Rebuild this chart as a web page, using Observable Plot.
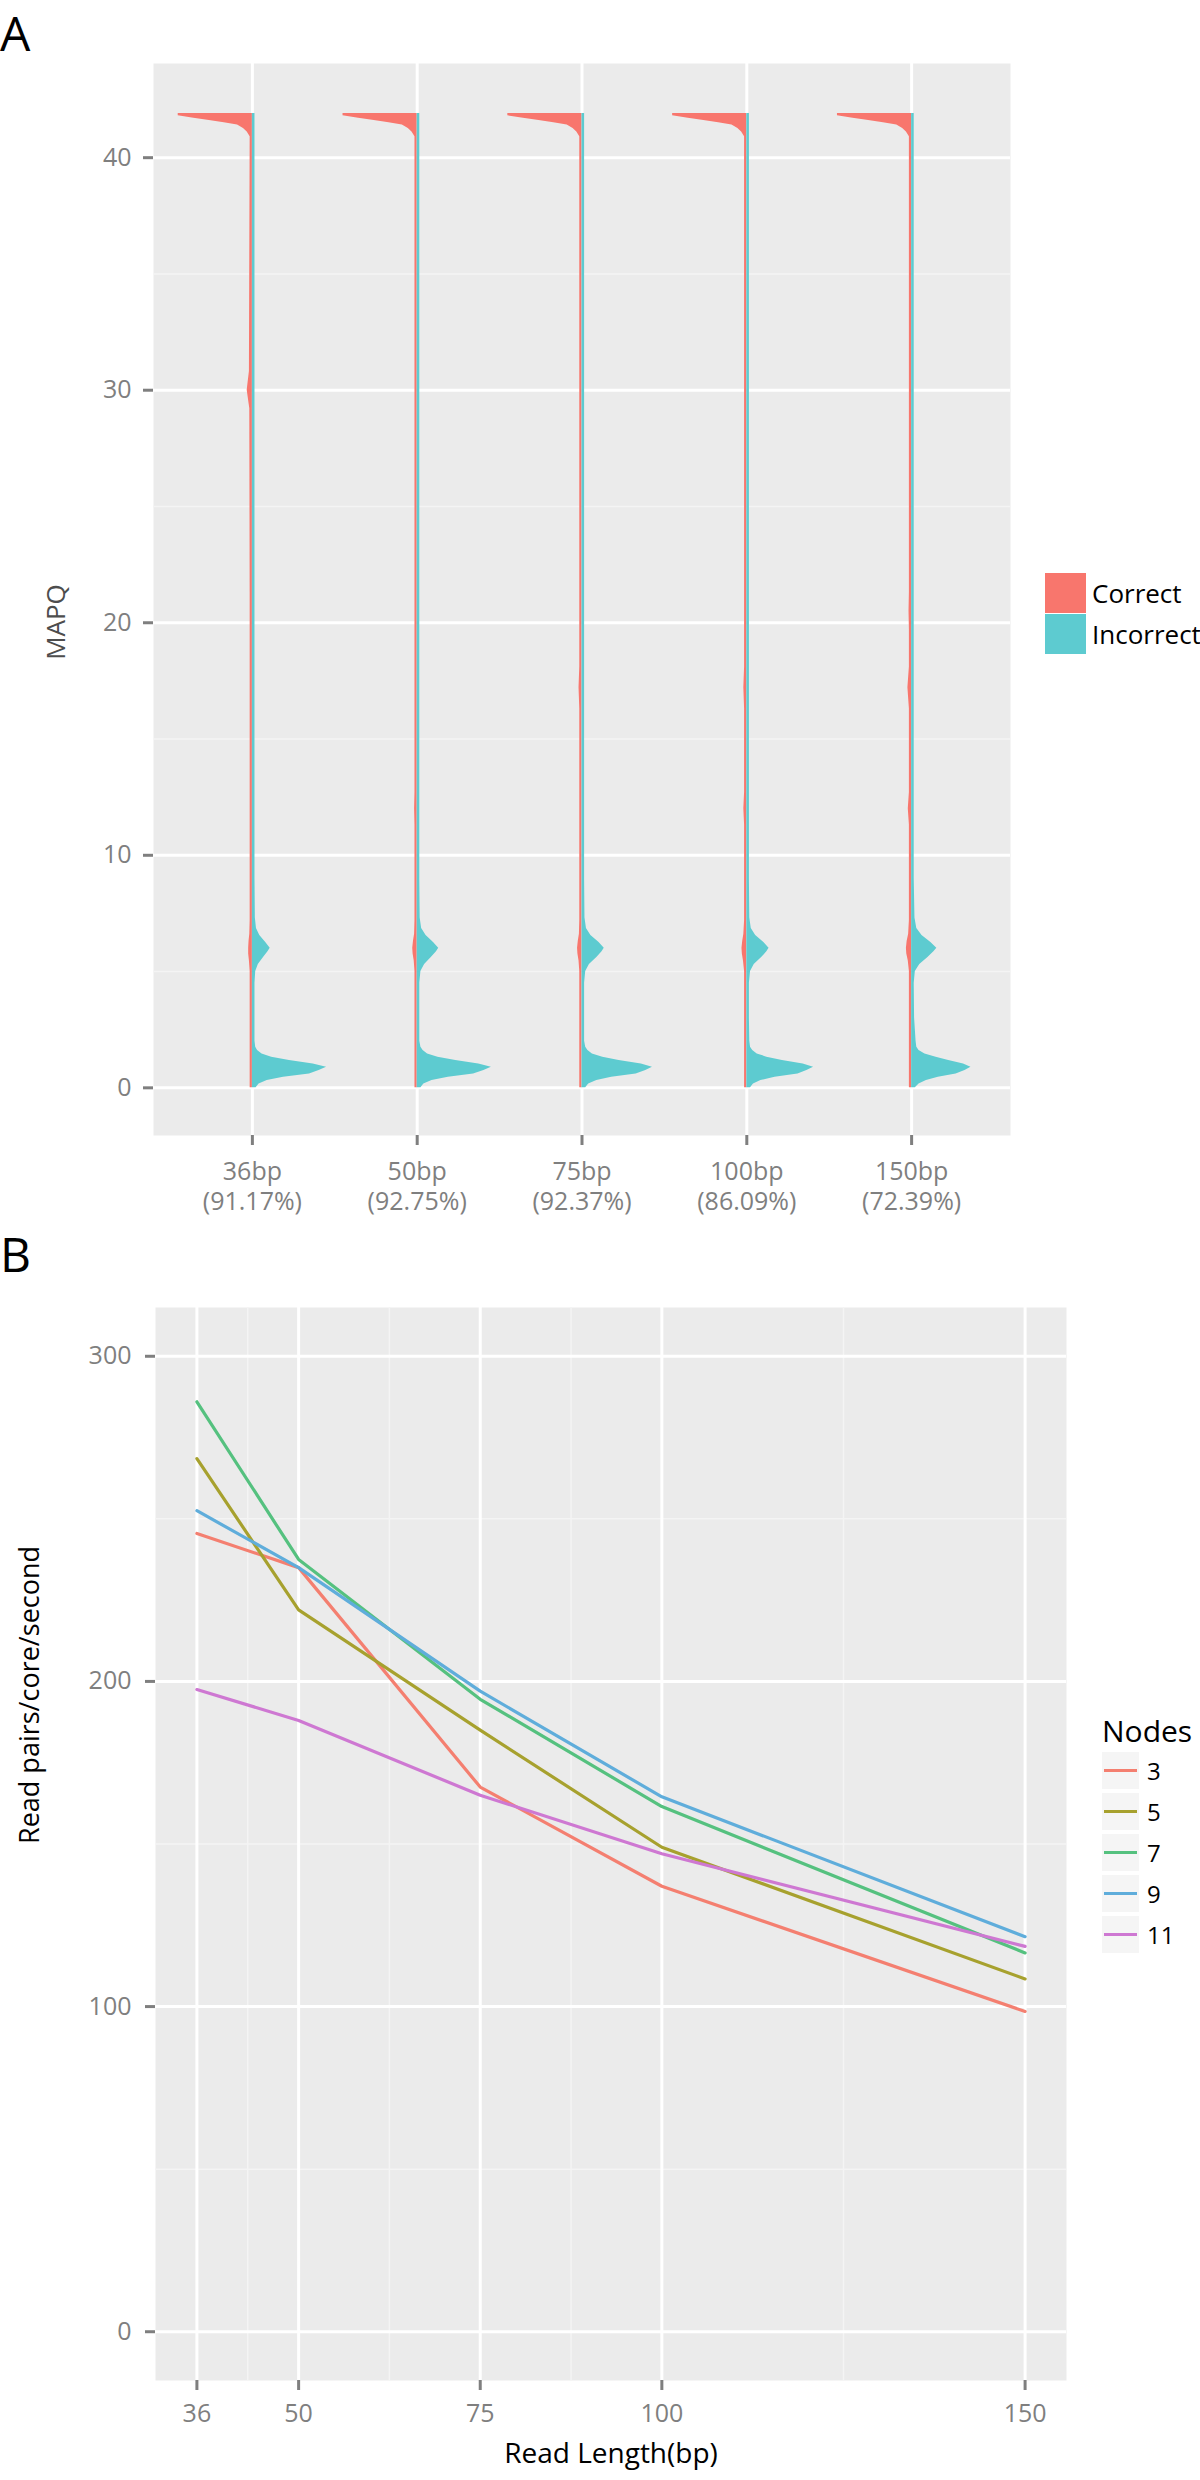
<!DOCTYPE html>
<html><head><meta charset="utf-8">
<script src="https://cdn.jsdelivr.net/npm/d3@7"></script>
<script src="https://cdn.jsdelivr.net/npm/@observablehq/plot@0.6"></script>
<style>
body{margin:0;background:#fff;font-family:"Open Sans",sans-serif;}
#wrap{position:relative;width:1200px;height:2480px;overflow:hidden;background:#fff;}
.abs{position:absolute;}
.panelLabel{font-size:48px;line-height:48px;color:#000;}
.legA{display:flex;align-items:center;height:41px;}
.legA .sw{width:41px;height:40px;margin-right:6px;}
.legA span{font-size:26px;color:#000;}
.legB{display:flex;align-items:center;height:41px;}
.legB .key{width:37px;height:37px;background:#F5F5F5;display:flex;align-items:center;justify-content:center;margin-right:8px;}
.legB .key i{display:block;width:33px;height:3px;}
.legB span{font-size:24px;color:#000;}
.ytitle{white-space:nowrap;font-size:26px;line-height:30px;color:#4D4D4D;transform:translate(-50%,-50%) rotate(-90deg);}
</style></head><body><div id="wrap"></div>
<script>
// ---------- Panel A data ----------
const readLengths = ["36bp","50bp","75bp","100bp","150bp"];
const percentCorrect = ["91.17%","92.75%","92.37%","86.09%","72.39%"];
const classes = ["Correct","Incorrect"];
const classColors = ["#F8766D","#5DCBD0"];
const mapqTicks = [0,10,20,30,40];
const mapqMinor = [5,15,25,35];

// density half-widths (1 = full half-violin width)
const incorrectMapq = [0,0.17,0.31,0.46,0.6,0.74,0.89,1.03,1.17,1.32,1.46,1.6,1.75,2.0,3.0,4.5,5.0,5.3,5.6,5.85,6.0,6.25,6.55,6.85,7.3,9,20,30,41.9];
const incorrect36  = [0.05,0.09,0.2,0.42,0.77,0.9,1.0,0.82,0.5,0.26,0.13,0.07,0.045,0.035,0.035,0.035,0.045,0.08,0.15,0.21,0.24,0.18,0.1,0.055,0.04,0.035,0.035,0.035,0.035];
const incorrect50  = [0.05,0.09,0.2,0.42,0.76,0.9,1.0,0.83,0.52,0.28,0.14,0.08,0.05,0.035,0.035,0.035,0.05,0.1,0.19,0.26,0.29,0.22,0.12,0.06,0.04,0.035,0.035,0.035,0.035];
const incorrect75  = [0.05,0.09,0.2,0.4,0.73,0.86,0.95,0.8,0.5,0.28,0.14,0.08,0.05,0.035,0.035,0.035,0.05,0.1,0.2,0.27,0.3,0.23,0.12,0.06,0.04,0.035,0.035,0.035,0.035];
const incorrect100 = [0.05,0.09,0.19,0.38,0.69,0.81,0.9,0.76,0.48,0.27,0.14,0.08,0.05,0.04,0.035,0.035,0.05,0.1,0.2,0.27,0.3,0.23,0.12,0.06,0.04,0.035,0.035,0.035,0.035];
const incorrect150 = [0.05,0.1,0.2,0.36,0.6,0.72,0.8,0.7,0.5,0.33,0.18,0.1,0.07,0.06,0.04,0.035,0.05,0.11,0.22,0.3,0.34,0.26,0.14,0.07,0.045,0.035,0.035,0.035,0.035];

const correctMapq = [0,1.5,3,5.0,5.45,5.75,6.0,6.3,6.6,7.2,11.3,12.0,12.7,16.3,17.2,18.1,19.7,20.5,21.3,29.2,30,30.8,40.9,41.1,41.25,41.4,41.5,41.6,41.7,41.8,41.9];
const correct36  = [0.03,0.03,0.03,0.03,0.04,0.05,0.05,0.045,0.035,0.03,0.03,0.03,0.03,0.03,0.03,0.03,0.03,0.03,0.03,0.035,0.07,0.04,0.03,0.07,0.12,0.2,0.38,0.58,0.79,1.0,1.0];
const correct50  = [0.03,0.03,0.03,0.03,0.04,0.055,0.06,0.05,0.035,0.03,0.03,0.035,0.03,0.03,0.03,0.03,0.03,0.03,0.03,0.03,0.03,0.03,0.03,0.07,0.12,0.2,0.38,0.58,0.79,1.0,1.0];
const correct75  = [0.03,0.03,0.03,0.03,0.04,0.055,0.06,0.05,0.035,0.03,0.03,0.03,0.03,0.03,0.04,0.03,0.03,0.03,0.03,0.03,0.03,0.03,0.03,0.07,0.12,0.2,0.38,0.58,0.79,1.0,1.0];
const correct100 = [0.03,0.03,0.03,0.03,0.045,0.06,0.065,0.055,0.04,0.03,0.03,0.04,0.03,0.03,0.04,0.03,0.03,0.03,0.03,0.03,0.03,0.03,0.03,0.07,0.12,0.2,0.38,0.58,0.79,1.0,1.0];
const correct150 = [0.03,0.03,0.03,0.03,0.045,0.065,0.07,0.06,0.04,0.03,0.03,0.045,0.03,0.03,0.05,0.03,0.03,0.035,0.03,0.03,0.03,0.03,0.03,0.07,0.12,0.2,0.38,0.58,0.79,1.0,1.0];

// ---------- Panel B data ----------
const readLengthBp = [36,50,75,100,150];
const readLengthMinor = [43,62.5,87.5,125];
const nodes = ["3","5","7","9","11"];
const nodeColors = ["#F47F70","#A7A12E","#55C17F","#5FADDB","#CE78D2"];
const nodes3  = [245.5,235,167.5,137,98.5];
const nodes5  = [268.5,222,185,149,108.5];
const nodes7  = [286,237.5,194.5,161.5,116.5];
const nodes9  = [252.5,235,197,164.5,121.5];
const nodes11 = [197.5,188,165,147,118.5];
const rateTicks = [0,100,200,300];
const rateMinor = [50,150,250];

// ---------- build tables ----------
const correctSeries = [correct36,correct50,correct75,correct100,correct150];
const incorrectSeries = [incorrect36,incorrect50,incorrect75,incorrect100,incorrect150];
const halfWidth = 0.45;
const violinRows = [];
readLengths.forEach((rl,i)=>{
  correctSeries[i].forEach((w,j)=>violinRows.push({pos:i+1,key:rl+"C",cls:"Correct",mapq:correctMapq[j],w,side:-1}));
  incorrectSeries[i].forEach((w,j)=>violinRows.push({pos:i+1,key:rl+"I",cls:"Incorrect",mapq:incorrectMapq[j],w,side:1}));
});
const positions = readLengths.map((d,i)=>i+1);

const lineSeries = [nodes3,nodes5,nodes7,nodes9,nodes11];
const lineRows = [];
nodes.forEach((n,k)=>lineSeries[k].forEach((v,j)=>lineRows.push({node:n,len:readLengthBp[j],val:v})));

const font = '"Open Sans", sans-serif';

const plotA = Plot.plot({
  width:1200, height:1215,
  marginLeft:153, marginRight:190, marginTop:63, marginBottom:80,
  style:{fontFamily:font, fontSize:"25px", background:"transparent", overflow:"visible"},
  x:{domain:[0.4,5.6], axis:null},
  y:{domain:[-2.05,44.05], axis:null},
  color:{domain:classes, range:classColors},
  marks:[
    Plot.frame({fill:"#EBEBEB"}),
    Plot.ruleY(mapqMinor,{stroke:"#F4F4F4",strokeWidth:1.5}),
    Plot.ruleY(mapqTicks,{stroke:"#FFFFFF",strokeWidth:3}),
    Plot.ruleX(positions,{stroke:"#FFFFFF",strokeWidth:3}),
    Plot.areaX(violinRows,{
      y:"mapq",
      x1:d=>d.side<0 ? d.pos - d.w*halfWidth : d.pos,
      x2:d=>d.side<0 ? d.pos : d.pos + d.w*halfWidth,
      z:"key", fill:"cls", curve:"linear"
    }),
    Plot.axisY({ticks:mapqTicks, tickSize:10, tickPadding:12, strokeWidth:3, color:"#7F7F7F", fontSize:25, label:null}),
    Plot.axisX({ticks:positions, tickFormat:i=>readLengths[i-1]+"\n("+percentCorrect[i-1]+")", tickSize:10, tickPadding:14, strokeWidth:3, color:"#7F7F7F", fontSize:25, lineHeight:1.18, label:null})
  ]
});

const plotB = Plot.plot({
  width:1200, height:1200,
  marginLeft:155, marginRight:134, marginTop:27, marginBottom:100,
  style:{fontFamily:font, fontSize:"25px", background:"transparent", overflow:"visible"},
  x:{domain:[30.3,155.7], axis:null},
  y:{domain:[-15,315], axis:null},
  color:{domain:nodes, range:nodeColors},
  marks:[
    Plot.frame({fill:"#EBEBEB"}),
    Plot.ruleX(readLengthMinor,{stroke:"#F4F4F4",strokeWidth:1.5}),
    Plot.ruleY(rateMinor,{stroke:"#F4F4F4",strokeWidth:1.5}),
    Plot.ruleX(readLengthBp,{stroke:"#FFFFFF",strokeWidth:3}),
    Plot.ruleY(rateTicks,{stroke:"#FFFFFF",strokeWidth:3}),
    Plot.line(lineRows,{x:"len", y:"val", stroke:"node", z:"node", strokeWidth:3.2}),
    Plot.axisY({ticks:rateTicks, tickSize:10, tickPadding:14, strokeWidth:3, color:"#7F7F7F", fontSize:25, label:null}),
    Plot.axisX({ticks:readLengthBp, tickFormat:d=>String(d), tickSize:10, tickPadding:14, strokeWidth:3, color:"#7F7F7F", fontSize:25, label:null}),
    Plot.text(["Read Length(bp)"],{text:d=>d, frameAnchor:"bottom", dy:82, fill:"#000", fontSize:28}),
    Plot.text(["Read pairs/core/second"],{text:d=>d, frameAnchor:"left", dx:-125, rotate:-90, fill:"#000", fontSize:27})
  ]
});

const wrap = document.getElementById("wrap");
function place(el, left, top){ el.classList.add("abs"); el.style.left=left+"px"; el.style.top=top+"px"; wrap.appendChild(el); return el; }

place(plotA, 0, 0);
place(plotB, 0, 1280);

const la = document.createElement("div"); la.className="panelLabel"; la.textContent="A"; place(la, 0, 9);
const lb = document.createElement("div"); lb.className="panelLabel"; lb.textContent="B"; place(lb, 0, 1230);

const yt = document.createElement("div"); yt.className="ytitle"; yt.textContent="MAPQ"; place(yt, 55, 622);

// legend A
const legA = document.createElement("div");
classes.forEach((c,i)=>{
  const row=document.createElement("div"); row.className="legA";
  const sw=document.createElement("div"); sw.className="sw"; sw.style.background=classColors[i];
  const t=document.createElement("span"); t.textContent=c;
  row.appendChild(sw); row.appendChild(t); legA.appendChild(row);
});
place(legA, 1045, 572);

// legend B
const legB = document.createElement("div");
const title=document.createElement("div"); title.textContent="Nodes"; title.style.fontSize="30px"; title.style.lineHeight="34px"; title.style.marginBottom="2px"; title.style.color="#000";
legB.appendChild(title);
nodes.forEach((n,i)=>{
  const row=document.createElement("div"); row.className="legB";
  const key=document.createElement("div"); key.className="key";
  const ln=document.createElement("i"); ln.style.background=nodeColors[i]; key.appendChild(ln);
  const t=document.createElement("span"); t.textContent=n;
  row.appendChild(key); row.appendChild(t); legB.appendChild(row);
});
place(legB, 1102, 1714);
</script></body></html>
